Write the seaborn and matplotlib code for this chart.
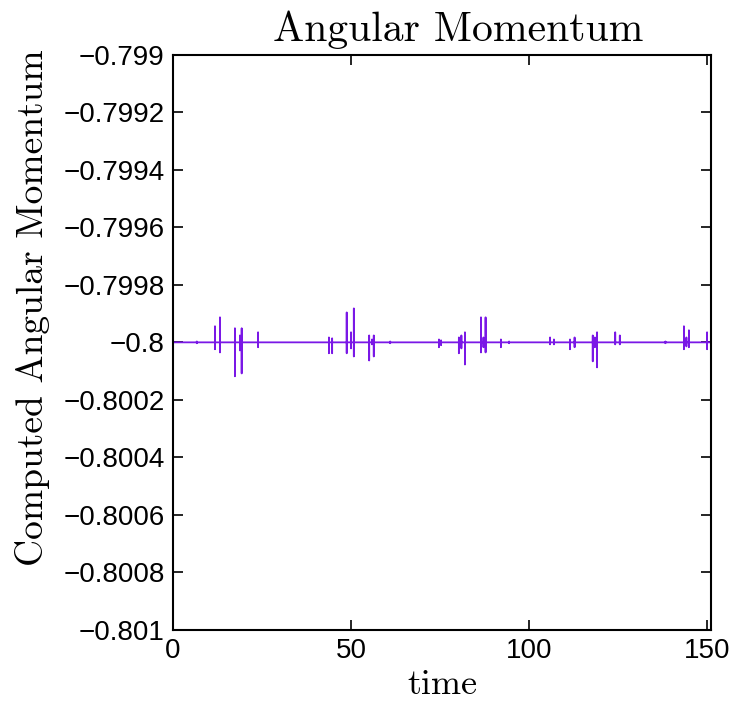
import numpy as np
import pandas as pd
import matplotlib
matplotlib.use("Agg")
import matplotlib.pyplot as plt
from matplotlib.ticker import FixedLocator, FixedFormatter
import seaborn as sns

# Conserved value and simulated time span
baseline = -0.8
t_end = 151.1

# Times of the small numerical excursions and their extremes (units of 1e-6)
event_times = [6.7, 11.8, 13.2, 17.4, 18.8, 19.3, 23.9, 43.8, 44.7, 48.8,
               50.0, 50.8, 55.1, 55.9, 56.4, 61.0, 74.7, 75.3, 80.3, 81.0,
               82.0, 86.5, 87.2, 87.8, 92.1, 94.4, 105.9, 107.0, 111.5, 112.8,
               117.9, 118.5, 119.1, 124.2, 125.5, 138.3, 143.5, 144.2, 144.9, 150.0]
event_highs = [3, 56, 87, 49, 24, 49, 35, 17, 14, 104,
               35, 118, 24, 10, 24, 3, 10, 7, 17, 24,
               35, 87, 17, 87, 10, 3, 17, 10, 10, 17,
               24, 17, 35, 35, 24, 3, 56, 17, 42, 35]
event_lows = [-3, -24, -35, -118, -28, -108, -17, -38, -38, -38,
              -21, -49, -63, -7, -49, -3, -17, -10, -38, -21,
              -77, -35, -17, -35, -17, -3, -7, -7, -24, -17,
              -66, -17, -87, -7, -7, -3, -24, -14, -17, -24]

y_ticks = [-0.801, -0.8008, -0.8006, -0.8004, -0.8002, -0.8,
           -0.7998, -0.7996, -0.7994, -0.7992, -0.799]
y_tick_labels = ["\u22120.801", "\u22120.8008", "\u22120.8006", "\u22120.8004", "\u22120.8002",
                 "\u22120.8", "\u22120.7998", "\u22120.7996", "\u22120.7994", "\u22120.7992",
                 "\u22120.799"]
x_ticks = [0, 50, 100, 150]
x_tick_labels = ["0", "50", "100", "150"]

# Assemble the trace: flat baseline with vertical excursions at each event
times = [0.0]
values = [baseline]
for t, hi, lo in zip(event_times, event_highs, event_lows):
    times += [t, t + 0.001, t + 0.002, t + 0.003]
    values += [baseline, baseline + hi * 1e-6, baseline + lo * 1e-6, baseline]
times.append(t_end)
values.append(baseline)
df = pd.DataFrame({"time": times, "L": values})

sns.set_style("white")
plt.rcParams["font.family"] = ["Liberation Sans", "DejaVu Sans"]

fig = plt.figure(figsize=(7.36, 7.11), dpi=100)
ax = fig.add_axes([0.235, 0.114, 0.731, 0.809])

sns.lineplot(data=df, x="time", y="L", ax=ax, sort=False, estimator=None,
             color="#7a18e6", linewidth=1.3)

ax.set_xlim(0, t_end)
ax.set_ylim(-0.801, -0.799)
ax.yaxis.set_major_locator(FixedLocator(y_ticks))
ax.yaxis.set_major_formatter(FixedFormatter(y_tick_labels))
ax.xaxis.set_major_locator(FixedLocator(x_ticks))
ax.xaxis.set_major_formatter(FixedFormatter(x_tick_labels))

ax.tick_params(direction="in", length=7, width=1.2, labelsize=20, colors="black",
               top=True, right=True, bottom=True, left=True, pad=6)
for s in ax.spines.values():
    s.set_visible(True)
    s.set_color("black")
    s.set_linewidth(1.5)

serif = "cmr10"
ax.set_title("Angular Momentum", fontfamily=serif, fontsize=30, color="black",
             x=0.53, pad=10)
ax.set_xlabel("time", fontfamily=serif, fontsize=26, color="black", labelpad=4)
ax.set_ylabel("Computed Angular Momentum", fontfamily=serif, fontsize=27,
              color="black")
ax.yaxis.set_label_coords(-0.228, 0.56)

fig.savefig("out.png", dpi=100, facecolor="white")
